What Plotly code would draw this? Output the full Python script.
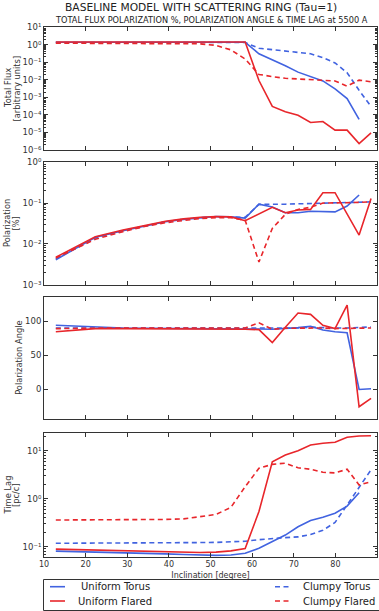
import plotly.graph_objects as go

# ---------------- data ----------------
inclination = [12.84, 22.33, 28.96, 34.41, 39.19, 43.53, 47.54, 51.32, 54.90, 58.33,
               61.64, 64.85, 67.98, 71.03, 74.04, 77.00, 79.92, 82.82, 85.70, 88.57]

flux_uniform_torus = [1.35, 1.35, 1.35, 1.35, 1.35, 1.35, 1.35, 1.35, 1.35, 1.35,
                      0.3, 0.14, 0.063, 0.027, 0.015, 0.0085, 0.003, 0.00085, 5.5e-5, None]
flux_clumpy_torus = [1.3, 1.3, 1.3, 1.3, 1.3, 1.3, 1.3, 1.3, 1.3, 1.3,
                     0.62, 0.52, 0.46, 0.39, 0.3, 0.18, 0.09, 0.025, 0.0025, 3e-4]
flux_uniform_flared = [1.4, 1.4, 1.4, 1.4, 1.4, 1.4, 1.4, 1.4, 1.4, 1.4,
                       0.009, 3e-4, 1.5e-4, 9.5e-5, 3.7e-5, 4.2e-5, 1.35e-5, 1.35e-5, 2.3e-6, 9.5e-6]
flux_clumpy_flared = [1.2, 1.2, 1.2, 1.2, 1.2, 1.2, 1.1, 0.9, 0.5, 0.15,
                      0.02, 0.015, 0.012, 0.011, 0.010, 0.009, 0.0085, 0.0043, 0.0095, 0.0076]

pol_uniform_torus = [0.0041, 0.0145, 0.021, 0.028, 0.035, 0.040, 0.044, 0.047, 0.046, 0.043,
                     0.094, 0.080, 0.058, 0.058, 0.063, 0.061, 0.061, 0.085, 0.158, None]
pol_clumpy_torus = [0.0043, 0.014, 0.021, 0.028, 0.035, 0.040, 0.044, 0.046, 0.046, 0.045,
                    0.093, 0.092, 0.094, 0.096, 0.098, 0.100, 0.102, 0.104, 0.105, 0.107]
pol_uniform_flared = [0.0047, 0.015, 0.022, 0.029, 0.036, 0.041, 0.045, 0.047, 0.046, 0.037,
                      0.055, 0.079, 0.058, 0.068, 0.070, 0.18, 0.18, 0.056, 0.0165, 0.13]
pol_clumpy_flared = [0.0045, 0.013, 0.020, 0.027, 0.033, 0.038, 0.042, 0.044, 0.044, 0.038,
                     0.0036, 0.024, 0.053, 0.070, 0.079, 0.100, 0.100, 0.102, 0.104, 0.108]

angle_uniform_torus = [94, 91.5, 90, 89.5, 89.5, 89.5, 89.5, 89.5, 89.5, 89.2,
                       88.5, 88, 89, 90.5, 92.5, 87, 84.5, 83, -0.5, 0.5]
angle_clumpy_torus = [90, 90, 90, 90, 90, 90, 90, 90, 90, 90,
                      89, 90, 90, 90, 91, 90, 90, 90, 90.5, 91.5]
angle_uniform_flared = [84.5, 89, 89, 89, 89, 89, 89, 89, 89, 88,
                        87.5, 68.5, 91, 112, 110, 94, 89, 123.5, -26, -13.5]
angle_clumpy_flared = [89, 90, 90, 90, 90, 90, 90, 90, 90, 90,
                       97.5, 88, 89.5, 90, 90, 90, 89, 89, 89.5, 90]

lag_uniform_torus = [0.081, 0.078, 0.075, 0.073, 0.071, 0.069, 0.067, 0.066, 0.067, 0.073,
                     0.093, 0.13, 0.175, 0.26, 0.35, 0.41, 0.50, 0.70, 1.33, None]
lag_clumpy_torus = [0.118, 0.118, 0.119, 0.12, 0.12, 0.121, 0.122, 0.123, 0.125, 0.13,
                    0.14, 0.15, 0.155, 0.16, 0.18, 0.22, 0.32, 0.74, 1.78, 4.0]
lag_uniform_flared = [0.089, 0.085, 0.082, 0.080, 0.078, 0.077, 0.076, 0.077, 0.082, 0.092,
                      0.54, 5.9, 8.1, 10.0, 13.1, 14.3, 15.0, 19.0, 20.2, 20.5]
lag_clumpy_flared = [0.36, 0.36, 0.36, 0.365, 0.37, 0.38, 0.42, 0.47, 0.66, 1.78,
                     4.3, 5.2, 5.5, 4.4, 4.1, 3.55, 3.45, 4.1, 1.93, 2.26]

series_names = ["Uniform Torus", "Clumpy Torus", "Uniform Flared", "Clumpy Flared"]
x_ticks = [10, 20, 30, 40, 50, 60, 70, 80, 90]

# ---------------- style / layout helpers ----------------
W, H = 379, 611
PL, PR = 44, 377
BLUE = "#4163e0"
RED = "#e8262b"
DASH = "5px,3.5px"
FONT = "DejaVu Sans"
AX = "#333333"


def fx(px):
    return (px - PL) / (PR - PL)


def fy(py):
    return 1 - py / H


panel_px = [(27, 150), (162.3, 284.7), (296.7, 419), (433.3, 556.7)]

panel_data = [
    [flux_uniform_torus, flux_clumpy_torus, flux_uniform_flared, flux_clumpy_flared],
    [pol_uniform_torus, pol_clumpy_torus, pol_uniform_flared, pol_clumpy_flared],
    [angle_uniform_torus, angle_clumpy_torus, angle_uniform_flared, angle_clumpy_flared],
    [lag_uniform_torus, lag_clumpy_torus, lag_uniform_flared, lag_clumpy_flared],
]
styles = [(BLUE, "solid"), (BLUE, DASH), (RED, "solid"), (RED, DASH)]

fig = go.Figure()
for p, datasets in enumerate(panel_data):
    suffix = "" if p == 0 else str(p + 1)
    for k in range(4):
        col, dash = styles[k]
        fig.add_trace(go.Scatter(
            x=inclination, y=datasets[k], mode="lines",
            line=dict(color=col, width=1.6, dash=dash),
            name=series_names[k], showlegend=False,
            xaxis="x" + suffix, yaxis="y" + suffix,
        ))


def minor_log(lo, hi):
    vals = []
    for e in range(lo, hi):
        for m in range(2, 10):
            vals.append(m * 10 ** e)
    return vals


SUP = str.maketrans("-0123456789", "⁻⁰¹²³⁴⁵⁶⁷⁸⁹")


def pow_text(e):
    return "10" + str(e).translate(SUP)


y_specs = [
    dict(type="log", range=[-6, 1], tickvals=[10 ** e for e in range(-6, 2)],
         ticktext=[pow_text(e) for e in range(-6, 2)], minor_vals=minor_log(-6, 1)),
    dict(type="log", range=[-3, 0], tickvals=[10 ** e for e in range(-3, 1)],
         ticktext=[pow_text(e) for e in range(-3, 1)], minor_vals=minor_log(-3, 0)),
    dict(type="linear", range=[-44, 136], tickvals=[0, 50, 100],
         ticktext=["0", "50", "100"], minor_vals=None),
    dict(type="log", range=[-1.208, 1.3625], tickvals=[0.1, 1, 10],
         ticktext=[pow_text(e) for e in (-1, 0, 1)], minor_vals=minor_log(-2, 2)),
]

layout = dict(
    width=W, height=H, template="none",
    margin=dict(l=PL, r=W - PR, t=0, b=0),
    paper_bgcolor="white", plot_bgcolor="white",
    font=dict(family=FONT, size=8, color=AX),
    showlegend=False,
)

for p in range(4):
    suffix = "" if p == 0 else str(p + 1)
    top, bot = panel_px[p]
    spec = y_specs[p]
    xa = dict(domain=[0, 1], range=[10, 90], anchor="y" + suffix,
              tickmode="array", tickvals=x_ticks,
              showticklabels=(p == 3), ticks="inside", ticklen=4, tickcolor=AX,
              showline=True, linecolor=AX, linewidth=1, mirror="ticks",
              showgrid=False, zeroline=False, automargin=False,
              tickfont=dict(family=FONT, size=8, color=AX))
    if p == 3:
        xa["ticktext"] = [str(v) for v in x_ticks]
        xa["title"] = dict(text="Inclination [degree]", standoff=4,
                           font=dict(family=FONT, size=8, color=AX))
    ya = dict(domain=[fy(bot), fy(top)], type=spec["type"], range=spec["range"],
              anchor="x" + suffix, tickmode="array",
              tickvals=spec["tickvals"], ticktext=spec["ticktext"],
              ticks="inside", ticklen=4, tickcolor=AX,
              showline=True, linecolor=AX, linewidth=1, mirror="ticks",
              showgrid=False, zeroline=False, automargin=False,
              tickfont=dict(family=FONT, size=8.5, color=AX))
    if spec["minor_vals"]:
        ya["minor"] = dict(tickmode="array", tickvals=spec["minor_vals"],
                           ticks="inside", ticklen=2, tickcolor=AX, showgrid=False)
    layout["xaxis" + suffix] = xa
    layout["yaxis" + suffix] = ya

fig.update_layout(**layout)

# titles
fig.add_annotation(text="BASELINE MODEL WITH SCATTERING RING (Tau=1)",
                   xref="paper", yref="paper", x=fx(201), y=fy(7), showarrow=False,
                   xanchor="center", yanchor="middle",
                   font=dict(family=FONT, size=10.7, color="#222"))
fig.add_annotation(text="TOTAL FLUX POLARIZATION %, POLARIZATION ANGLE & TIME LAG at 5500 A",
                   xref="paper", yref="paper", x=fx(211.5), y=fy(20.5), showarrow=False,
                   xanchor="center", yanchor="middle",
                   font=dict(family=FONT, size=8.2, color="#222"))

# y-axis titles
ylabels = [
    [("Total Flux", 7.5), ("[arbitrary units]", 16)],
    [("Polarization", 7.5), ("[%]", 16)],
    [("Polarization Angle", 19)],
    [("Time Lag", 7.5), ("[pc/c]", 16)],
]
for p, lines in enumerate(ylabels):
    top, bot = panel_px[p]
    cy = (top + bot) / 2
    for txt, xp in lines:
        fig.add_annotation(text=txt, xref="paper", yref="paper", x=fx(xp), y=fy(cy),
                           showarrow=False, textangle=-90, xanchor="center", yanchor="middle",
                           font=dict(family=FONT, size=8.3, color=AX))

# legend box (matplotlib-style, 2 columns expanded across the axes width)
fig.add_shape(type="rect", xref="paper", yref="paper",
              x0=fx(43.5), x1=fx(383), y0=fy(610.5), y1=fy(579.5),
              line=dict(color=AX, width=1), fillcolor="white", layer="above")
legend_items = [
    # name, color, dash, symbol x0, symbol x1, text x, row y
    (series_names[0], BLUE, "solid", 50, 65, 79, 586.7),
    (series_names[2], RED, "solid", 50, 65, 76, 601),
    (series_names[1], BLUE, DASH, 275, 289, 301, 586.7),
    (series_names[3], RED, DASH, 275, 289, 301, 601),
]
for name, col, dash, s0, s1, tx, ry in legend_items:
    fig.add_shape(type="line", xref="paper", yref="paper",
                  x0=fx(s0), x1=fx(s1), y0=fy(ry), y1=fy(ry),
                  line=dict(color=col, width=1.6, dash=dash), layer="above")
    fig.add_annotation(text=name, xref="paper", yref="paper", x=fx(tx), y=fy(ry),
                       showarrow=False, xanchor="left", yanchor="middle",
                       font=dict(family=FONT, size=10, color="#222"))

fig.write_html("out.html")
